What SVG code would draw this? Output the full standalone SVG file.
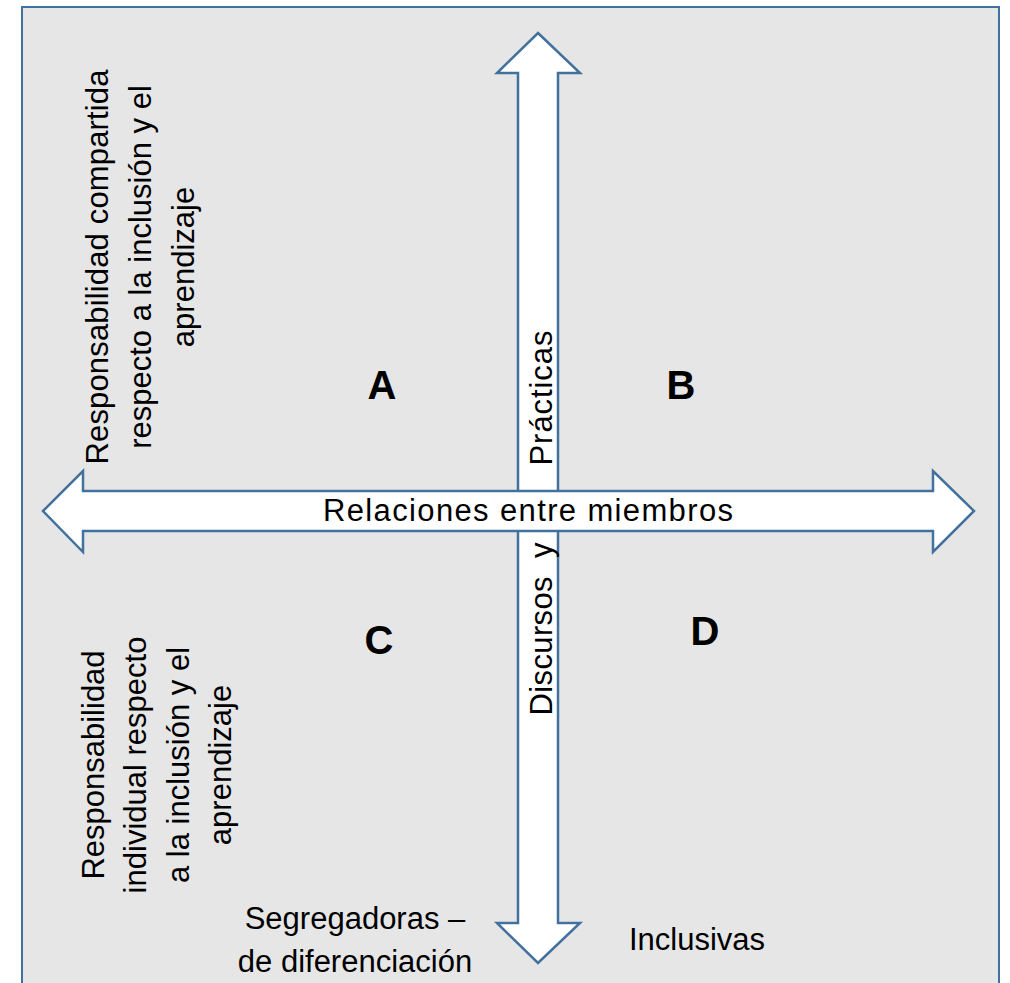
<svg xmlns="http://www.w3.org/2000/svg" width="1010" height="983" viewBox="0 0 1010 983">
<style>
  .t { font-family: "Liberation Sans", Arial, sans-serif; font-size: 31px; fill: #000; }
  .big { font-family: "Liberation Sans", Arial, sans-serif; font-size: 40px; font-weight: bold; fill: #000; text-anchor: middle; }
  .arrow { fill: #ffffff; stroke: #41719c; stroke-width: 2.5; stroke-linejoin: miter; }
  .mid { text-anchor: middle; }
</style>
<rect x="0" y="0" width="1010" height="983" fill="#ffffff"/>
<g id="frame">
  <rect x="22" y="7" width="977" height="990" fill="#e6e6e6" stroke="#41719c" stroke-width="2"/>
</g>
<g id="connectors">
  <g id="vertical-axis">
    <polygon class="arrow" points="538,33 580,73 558,73 558,923 580,923 538,963 497,923 518,923 518,73 497,73"/>
  </g>
  <g id="horizontal-axis">
    <polygon class="arrow" points="43,511 83,471 83,491 933,491 933,471 974,511 933,552 933,531 83,531 83,552"/>
  </g>
</g>
<g id="label-relaciones">
  <text class="t mid" x="528" y="521" textLength="410">Relaciones entre miembros</text>
</g>
<g id="label-practicas">
  <text class="t mid" transform="translate(552,398) rotate(-90)" textLength="135">Prácticas</text>
</g>
<g id="label-discursos">
  <text class="t mid" transform="translate(552,629) rotate(-90)" style="white-space:pre" textLength="173">Discursos  y</text>
</g>
<g id="label-compartida">
  <text class="t mid" transform="translate(108,267) rotate(-90)" textLength="395">Responsabilidad compartida</text>
  <text class="t mid" transform="translate(151,267) rotate(-90)">respecto a la inclusión y el</text>
  <text class="t mid" transform="translate(194,267) rotate(-90)">aprendizaje</text>
</g>
<g id="label-individual">
  <text class="t mid" transform="translate(104,765) rotate(-90)">Responsabilidad</text>
  <text class="t mid" transform="translate(146,765) rotate(-90)">individual respecto</text>
  <text class="t mid" transform="translate(189,765) rotate(-90)">a la inclusión y el</text>
  <text class="t mid" transform="translate(231,765) rotate(-90)">aprendizaje</text>
</g>
<g id="node-A"><text class="big" x="382" y="399">A</text></g>
<g id="node-B"><text class="big" x="681" y="399">B</text></g>
<g id="node-C"><text class="big" x="379" y="654">C</text></g>
<g id="node-D"><text class="big" x="705" y="645">D</text></g>
<g id="label-segregadoras">
  <text class="t mid" x="355" y="929">Segregadoras –</text>
  <text class="t mid" x="355" y="972">de diferenciación</text>
</g>
<g id="label-inclusivas">
  <text class="t mid" x="697" y="950">Inclusivas</text>
</g>
</svg>
